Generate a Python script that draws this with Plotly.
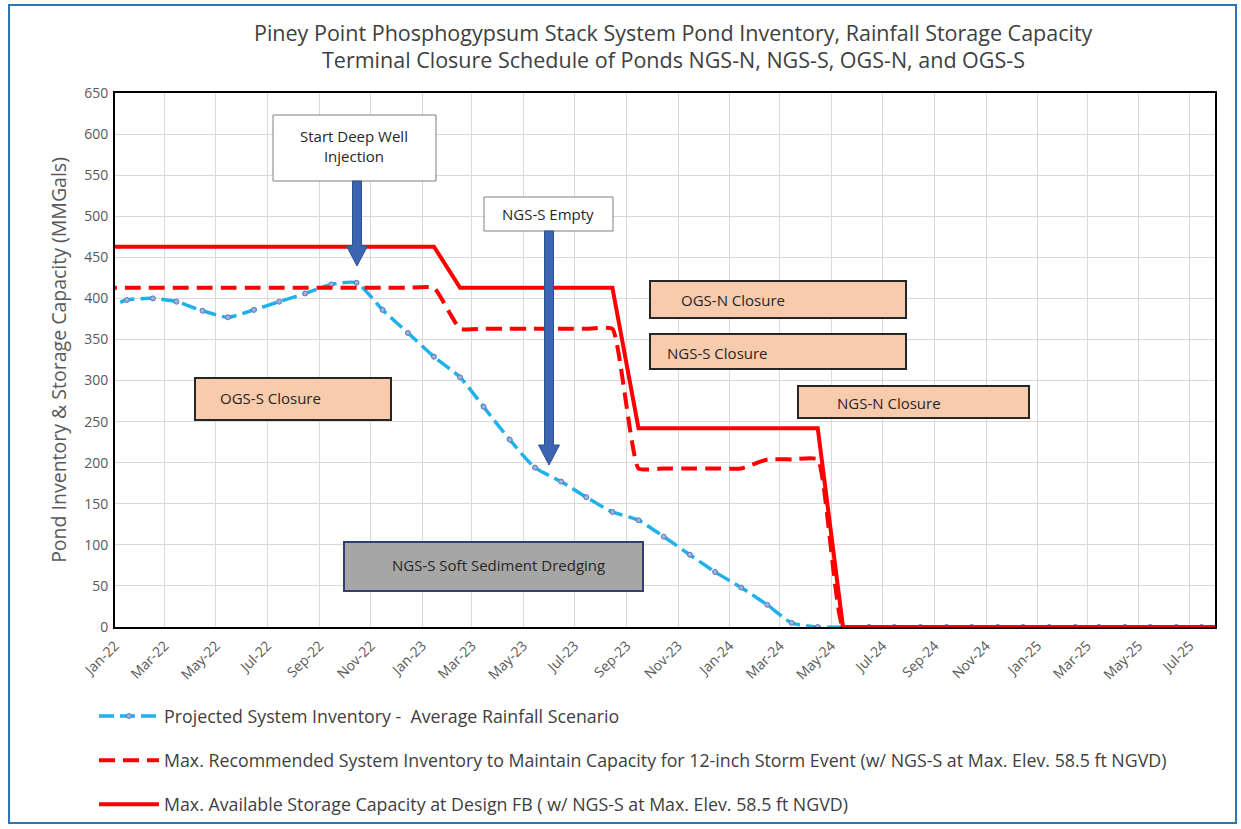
import plotly.graph_objects as go

# ---------------- data ----------------
months = [
    "2021-12-15",
    "2022-01-15", "2022-02-15", "2022-03-15", "2022-04-15", "2022-05-15", "2022-06-15",
    "2022-07-15", "2022-08-15", "2022-09-15", "2022-10-15", "2022-11-15", "2022-12-15",
    "2023-01-15", "2023-02-15", "2023-03-15", "2023-04-15", "2023-05-15", "2023-06-15",
    "2023-07-15", "2023-08-15", "2023-09-15", "2023-10-15", "2023-11-15", "2023-12-15",
    "2024-01-15", "2024-02-15", "2024-03-15", "2024-04-15", "2024-05-15", "2024-06-15",
    "2024-07-15", "2024-08-15", "2024-09-15", "2024-10-15", "2024-11-15", "2024-12-15",
    "2025-01-15", "2025-02-15", "2025-03-15", "2025-04-15", "2025-05-15", "2025-06-15",
    "2025-07-15", "2025-08-15",
]

projected_inventory = [
    385,
    398, 400, 396, 385, 377, 386, 396, 406, 417, 419, 386, 358,
    329, 304, 268, 228, 194, 177, 158, 140, 130, 110, 88, 67,
    48, 27, 5, 0, 0, 0, 0, 0, 0, 0, 0, 0,
    0, 0, 0, 0, 0, 0, 0, 0,
]

max_recommended = [
    413,
    413, 413, 413, 413, 413, 413, 413, 413, 413, 413, 413, 413,
    413, 363, 363, 363, 363, 363, 363, 363, 193, 193, 193, 193,
    193, 204, 204, 204, 0, 0, 0, 0, 0, 0, 0, 0,
    0, 0, 0, 0, 0, 0, 0, 0,
]

max_available = [
    463,
    463, 463, 463, 463, 463, 463, 463, 463, 463, 463, 463, 463,
    463, 413, 413, 413, 413, 413, 413, 413, 242, 242, 242, 242,
    242, 242, 242, 242, 0, 0, 0, 0, 0, 0, 0, 0,
    0, 0, 0, 0, 0, 0, 0, 0,
]

series_names = [
    "Projected System Inventory -  Average Rainfall Scenario",
    "Max. Recommended System Inventory to Maintain Capacity for 12-inch Storm Event (w/ NGS-S at Max. Elev. 58.5 ft NGVD)",
    "Max. Available Storage Capacity at Design FB ( w/ NGS-S at Max. Elev. 58.5 ft NGVD)",
]

title_lines = [
    "Piney Point Phosphogypsum Stack System Pond Inventory, Rainfall Storage Capacity",
    "Terminal Closure Schedule of Ponds NGS-N, NGS-S, OGS-N, and OGS-S",
]

# ---------------- layout geometry ----------------
W, H = 1241, 829
L, R, T, B = 115, 1215, 93, 627
FONT = "Open Sans"


def px(x):
    return (x - L) / (R - L)


def py(y):
    return (B - y) / (B - T)


fig = go.Figure()

fig.add_trace(go.Scatter(
    x=months, y=projected_inventory, name=series_names[0], legendgroup="a",
    mode="lines+markers",
    line=dict(color="#1FB1EA", width=3.5, dash="15px,6px", shape="spline", smoothing=0.6),
    marker=dict(size=5, color="#9DB3DE", line=dict(color="#5A79BC", width=1)),
))
fig.add_trace(go.Scatter(
    x=months, y=max_recommended, name=series_names[1], legendgroup="b",
    mode="lines",
    line=dict(color="#FF0000", width=4, dash="16px,8px", shape="spline", smoothing=0.4),
))
fig.add_trace(go.Scatter(
    x=months, y=max_available, name=series_names[2], legendgroup="c",
    mode="lines",
    line=dict(color="#FF0000", width=4),
))

shapes = []
annotations = []

# outer frame
shapes.append(dict(type="rect", xref="paper", yref="paper",
                   x0=px(9), x1=px(1236), y0=py(823), y1=py(5),
                   line=dict(color="#2E75B6", width=2), fillcolor="rgba(0,0,0,0)", layer="below"))

# title
for txt, yy in zip(title_lines, [32, 60]):
    annotations.append(dict(text=txt, xref="paper", yref="paper", x=px(673), y=py(yy),
                            showarrow=False, xanchor="center", yanchor="middle",
                            font=dict(family=FONT, size=21.5, color="#404040")))

# callout boxes: (x0, y0, x1, y1, text, tx, ty, fill, border, border width)
boxes = [
    (273, 115, 436, 181, "Start Deep Well<br>Injection", 354, 146, "#FFFFFF", "#7F7F7F", 1),
    (484, 197, 613, 231, "NGS-S Empty", 548, 214, "#FFFFFF", "#7F7F7F", 1),
    (650, 281, 906, 318, "OGS-N Closure", 733, 300, "#F8CBAD", "#262626", 2),
    (650, 334, 906, 369, "NGS-S Closure", 717, 353, "#F8CBAD", "#262626", 2),
    (798, 386, 1029, 418, "NGS-N Closure", 889, 403, "#F8CBAD", "#262626", 2),
    (195, 378, 391, 420, "OGS-S Closure", 270, 398, "#F8CBAD", "#262626", 2),
    (344, 542, 643, 591, "NGS-S Soft Sediment Dredging", 498, 565, "#A6A6A6", "#2F3F6F", 2),
]
for x0, y0, x1, y1, txt, tx, ty, fill, bc, bw in boxes:
    shapes.append(dict(type="rect", xref="paper", yref="paper",
                       x0=px(x0), x1=px(x1), y0=py(y1), y1=py(y0),
                       fillcolor=fill, line=dict(color=bc, width=bw)))
    annotations.append(dict(text=txt, xref="paper", yref="paper", x=px(tx), y=py(ty),
                            showarrow=False, xanchor="center", yanchor="middle",
                            font=dict(family=FONT, size=15, color="#262626")))


# blue block arrows
def arrow_path(xc, ytop, ytip, sw=4.5, hw=10.5, hl=20):
    pts = [(xc - sw, ytop), (xc + sw, ytop), (xc + sw, ytip - hl), (xc + hw, ytip - hl),
           (xc, ytip), (xc - hw, ytip - hl), (xc - sw, ytip - hl)]
    s = "M " + " L ".join(f"{px(a):.5f},{py(b):.5f}" for a, b in pts) + " Z"
    return s


for xc, ytop, ytip in [(357, 181, 266), (549, 231, 465)]:
    shapes.append(dict(type="path", xref="paper", yref="paper", path=arrow_path(xc, ytop, ytip),
                       fillcolor="#3C64B1", line=dict(color="#2F528F", width=1)))

fig.update_layout(
    width=W, height=H, autosize=False,
    margin=dict(l=L, r=W - R, t=T, b=H - B, pad=0),
    paper_bgcolor="white", plot_bgcolor="white",
    font=dict(family=FONT, color="#595959"),
    shapes=shapes, annotations=annotations,
    showlegend=True,
    legend=dict(xref="paper", yref="container",
                x=px(94), y=1 - 698 / H, xanchor="left", yanchor="top", orientation="v",
                font=dict(family=FONT, size=17.8, color="#404040"),
                itemwidth=60, tracegroupgap=18, bgcolor="rgba(0,0,0,0)"),
    xaxis=dict(
        type="date", range=["2022-01-01", "2025-07-31"],
        tick0="2022-01-01", dtick="M2", tickformat="%b-%y", tickangle=-45,
        tickfont=dict(family=FONT, size=14, color="#595959"),
        showgrid=True, gridcolor="#D9D9D9", gridwidth=1,
        showline=True, linecolor="black", linewidth=2, mirror=True,
        ticks="", zeroline=False, automargin=False, ticklabelstandoff=3,
    ),
    yaxis=dict(
        range=[0, 650], dtick=50, tick0=0,
        tickfont=dict(family=FONT, size=14, color="#595959"),
        title=dict(text="Pond Inventory & Storage Capacity (MMGals)", standoff=12,
                   font=dict(family=FONT, size=19.5, color="#595959")),
        showgrid=True, gridcolor="#D9D9D9", gridwidth=1,
        showline=True, linecolor="black", linewidth=2, mirror=True,
        ticks="", zeroline=False, ticklabelstandoff=2, automargin=False,
    ),
)

fig.write_html("out.html", config={"displayModeBar": False},
               post_script="document.body.style.margin='0px';")
